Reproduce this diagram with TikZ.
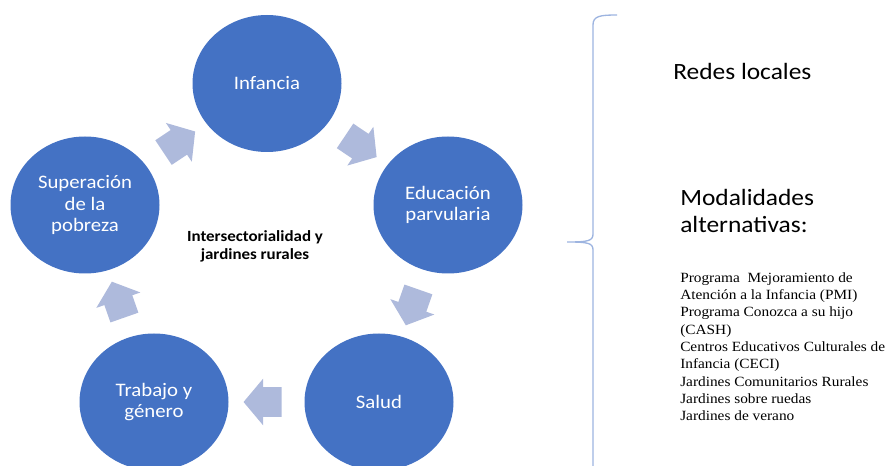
\documentclass[tikz,border=0pt]{standalone}
\usepackage{fontspec}
\setmainfont{Carlito}[FakeStretch=1.09]
\newfontfamily\listfont{Liberation Serif}[FakeStretch=1.09]
\usetikzlibrary{shapes.arrows,shapes.geometric}
\definecolor{circblue}{HTML}{4472C4}
\definecolor{arrowblue}{HTML}{AEBADC}
\definecolor{braceblue}{HTML}{9DB4E0}
\tikzset{
	topic/.style={ellipse,fill=circblue,text=white,minimum width=111.75pt,minimum height=102.75pt,inner sep=0pt,align=center,font=\fontsize{14.3}{16.3}\selectfont},
	flow/.style={single arrow,fill=arrowblue,minimum height=28.5pt,inner xsep=0pt,inner ysep=10.9pt,single arrow head extend=6.4pt,single arrow tip angle=100,sloped,allow upside down,pos=0.47},
}

\begin{document}
\begin{tikzpicture}[x=0.75pt,y=-0.75pt]
	\useasboundingbox (0,0) rectangle (890,466);
	\clip (0,0) rectangle (890,466);
	% cycle of topics
	\node[topic] (inf) at (267,83.5) {Infancia};
	\node[topic] (edu) at (448,205) {Educación\\parvularia};
	\node[topic] (sal) at (379,402) {Salud};
	\node[topic] (tra) at (154,402) {Trabajo y\\género};
	\node[topic] (sup) at (85,205) {Superación\\de la\\pobreza};
	\path (inf) -- node[flow]{} (edu);
	\path (edu) -- node[flow]{} (sal);
	\path (sal) -- node[flow]{} (tra);
	\path (tra) -- node[flow]{} (sup);
	\path (sup) -- node[flow]{} (inf);
	\node[align=center,font=\bfseries\fontsize{11.65}{13.7}\selectfont] (mid) at (255,246) {Intersectorialidad y\\jardines rurales};
	% brace and right column
	\draw[braceblue,line width=1pt] (617,15) .. controls (600,15) and (593,16) .. (593,25) -- (593,234)
		.. controls (593,241) and (588,242) .. (567,242)
		.. controls (588,242) and (593,243) .. (593,250) -- (593,470);
	\node[anchor=base west,inner sep=0pt,font=\fontsize{17.5}{20}\selectfont] (redes) at (673,80) {Redes locales};
	\node[anchor=base west,inner sep=0pt,align=left,font=\fontsize{17.5}{20.3}\selectfont] (moda) at (680,233) {Modalidades\\alternativas:};
	\node[anchor=base west,inner sep=0pt,align=left,font=\listfont\fontsize{10.55}{13}\selectfont] (prog) at (680,421) {Programa~ Mejoramiento de\\Atención a la Infancia (PMI)\\Programa Conozca a su hijo\\(CASH)\\Centros Educativos Culturales de\\Infancia (CECI)\\Jardines Comunitarios Rurales\\Jardines sobre ruedas\\Jardines de verano};
\end{tikzpicture}
\end{document}
